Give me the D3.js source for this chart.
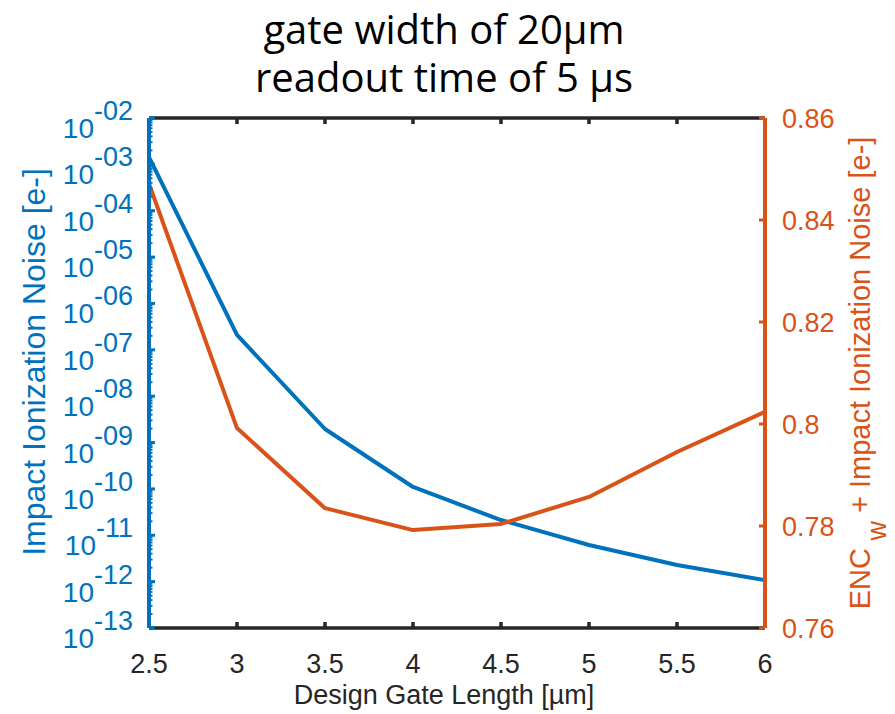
<!DOCTYPE html>
<html>
<head>
<meta charset="utf-8">
<script src="https://cdn.jsdelivr.net/npm/d3@7"></script>
<style>
  body { margin: 0; background: #fff; }
  svg { display: block; }
  text { font-family: "Liberation Sans", Arial, sans-serif; }
</style>
</head>
<body>
<svg width="895" height="714"></svg>
<script>
// data
var gateLength = [2.5, 3, 3.5, 4, 4.5, 5, 5.5, 6];
var impactNoise = [1.44e-3, 2.09e-7, 1.96e-9, 1.10e-10, 2.13e-11, 6.17e-12, 2.29e-12, 1.08e-12];
var totalNoise = [0.8471, 0.7992, 0.7835, 0.7792, 0.7804, 0.7857, 0.7945, 0.8024];

var xTicks = [2.5, 3, 3.5, 4, 4.5, 5, 5.5, 6];
var leftTicks = [-13, -12, -11, -10, -9, -8, -7, -6, -5, -4, -3, -2];
var rightTicks = [0.76, 0.78, 0.8, 0.82, 0.84, 0.86];
var titleLines = ["gate width of 20μm", "readout time of 5 μs"];

var blue = "#0072BD", orange = "#D95319", dark = "#262626";

var svg = d3.select("svg");
// plot box (note: "top" is a read-only window global, so use other names)
var pL = 149, pR = 765, pT = 118, pB = 628;

var x = d3.scaleLinear().domain([2.5, 6]).range([pL, pR]);
var yL = d3.scaleLog().domain([1e-13, 1e-2]).range([pB, pT]);
var yR = d3.scaleLinear().domain([0.76, 0.86]).range([pB, pT]);

// title
svg.append("g").selectAll("text").data(titleLines).enter().append("text")
    .attr("x", 444).attr("y", function(d, i) { return 44 + i * 48; })
    .attr("text-anchor", "middle")
    .style("font-family", "'Open Sans', sans-serif")
    .style("font-size", "40px").attr("fill", "#000")
    .text(function(d) { return d; });

// series (drawn under the axes)
var lineL = d3.line().x(function(d, i) { return x(gateLength[i]); }).y(function(d) { return yL(d); });
var lineR = d3.line().x(function(d, i) { return x(gateLength[i]); }).y(function(d) { return yR(d); });

svg.append("path").datum(impactNoise).attr("d", lineL)
    .attr("fill", "none").attr("stroke", blue).attr("stroke-width", 4).attr("stroke-linejoin", "round");
svg.append("path").datum(totalNoise).attr("d", lineR)
    .attr("fill", "none").attr("stroke", orange).attr("stroke-width", 4).attr("stroke-linejoin", "round");

// top and bottom frame
var frame = svg.append("g").attr("stroke", dark).attr("stroke-width", 3.5);
frame.append("line").attr("x1", pL).attr("x2", pR).attr("y1", pT).attr("y2", pT);
frame.append("line").attr("x1", pL).attr("x2", pR).attr("y1", pB).attr("y2", pB);
frame.selectAll(".tt").data(xTicks.slice(1, -1)).enter().append("line")
    .attr("x1", function(d) { return x(d); }).attr("x2", function(d) { return x(d); })
    .attr("y1", pT).attr("y2", pT + 6);
frame.selectAll(".bt").data(xTicks.slice(1, -1)).enter().append("line")
    .attr("x1", function(d) { return x(d); }).attr("x2", function(d) { return x(d); })
    .attr("y1", pB).attr("y2", pB - 6);

// x tick labels
svg.append("g").selectAll("text").data(xTicks).enter().append("text")
    .attr("x", function(d) { return x(d); }).attr("y", 673)
    .attr("text-anchor", "middle").style("font-size", "27px").attr("fill", dark)
    .text(function(d) { return d; });

svg.append("text").attr("x", 444).attr("y", 704).attr("text-anchor", "middle")
    .style("font-size", "27px").attr("fill", dark)
    .text("Design Gate Length [µm]");

// left log axis
var la = svg.append("g").attr("stroke", blue);
la.append("line").attr("x1", pL).attr("x2", pL).attr("y1", pT).attr("y2", pB).attr("stroke-width", 4);
la.selectAll(".mj").data(leftTicks).enter().append("line").attr("stroke-width", 3)
    .attr("x1", pL).attr("x2", pL + 6)
    .attr("y1", function(d) { return yL(Math.pow(10, d)); })
    .attr("y2", function(d) { return yL(Math.pow(10, d)); });
var minor = [];
leftTicks.slice(0, -1).forEach(function(e) {
    for (var m = 2; m < 10; m++) minor.push(m * Math.pow(10, e));
});
la.selectAll(".mn").data(minor).enter().append("line").attr("stroke-width", 2)
    .attr("x1", pL).attr("x2", pL + 3.5)
    .attr("y1", function(d) { return yL(d); }).attr("y2", function(d) { return yL(d); });

var lt = svg.append("g").selectAll("text").data(leftTicks).enter().append("text")
    .attr("x", 133).attr("y", function(d) { return yL(Math.pow(10, d)) + 20; })
    .attr("text-anchor", "end").attr("fill", blue).style("font-size", "28px");
lt.append("tspan").text("10");
lt.append("tspan").attr("dy", -18).style("font-size", "27px")
    .text(function(d) { return "-" + String(-d).padStart(2, "0"); });

svg.append("text").attr("transform", "translate(45," + 362 + ") rotate(-90)")
    .attr("text-anchor", "middle").attr("fill", blue).style("font-size", "32px")
    .text("Impact Ionization Noise [e-]");

// right linear axis
var ra = svg.append("g").attr("stroke", orange);
ra.append("line").attr("x1", pR).attr("x2", pR).attr("y1", pT).attr("y2", pB).attr("stroke-width", 4);
ra.selectAll(".mj").data(rightTicks).enter().append("line").attr("stroke-width", 3)
    .attr("x1", pR).attr("x2", pR - 6)
    .attr("y1", function(d) { return yR(d); }).attr("y2", function(d) { return yR(d); });

svg.append("g").selectAll("text").data(rightTicks).enter().append("text")
    .attr("x", 782).attr("y", function(d) { return yR(d) + 10; })
    .attr("fill", orange).style("font-size", "27px")
    .text(function(d) { return d3.format(".2f")(d).replace(/0$/, ""); });

var rl = svg.append("text").attr("transform", "translate(870," + 373 + ") rotate(-90)")
    .attr("text-anchor", "middle").attr("fill", orange).style("font-size", "29px");
rl.append("tspan").text("ENC");
rl.append("tspan").attr("dy", 16).style("font-size", "27px").text("  w");
rl.append("tspan").attr("dy", -16).text(" + Impact Ionization Noise [e-]");
</script>
</body>
</html>
